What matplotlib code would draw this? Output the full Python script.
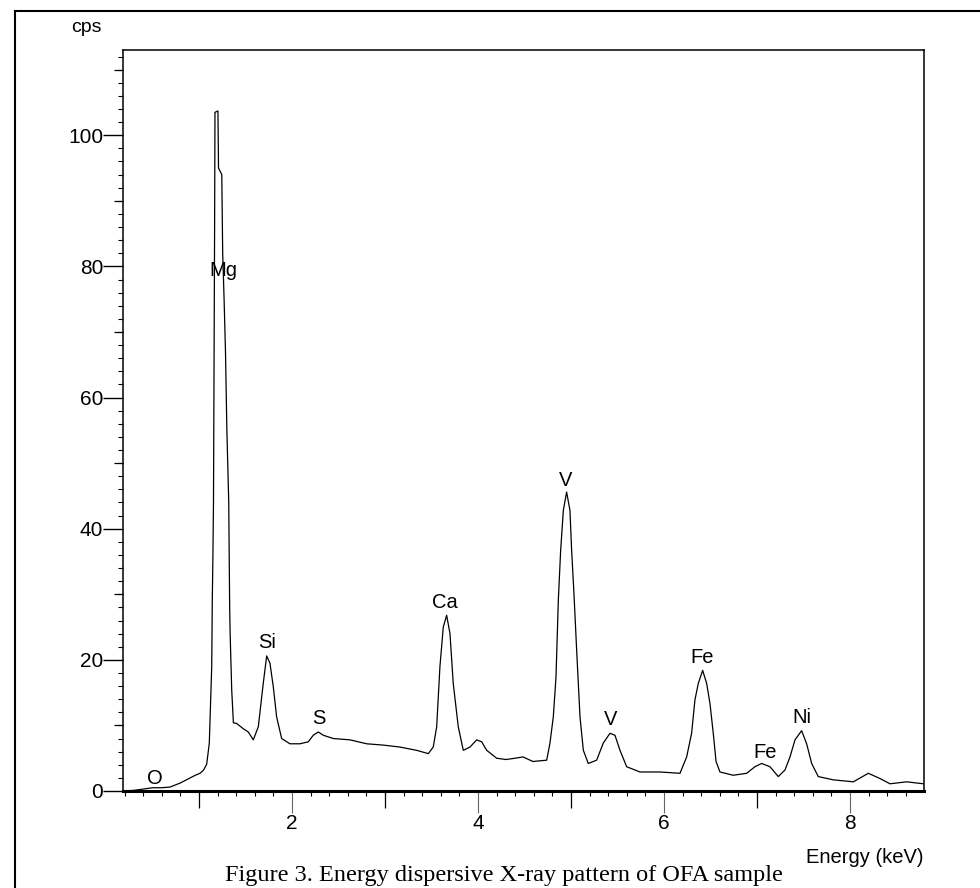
import matplotlib
matplotlib.use("Agg")
import matplotlib.pyplot as plt
from matplotlib.ticker import MultipleLocator, NullFormatter
from matplotlib.lines import Line2D

# ---- data ----
energy_kev = [
    0.18, 0.30, 0.40, 0.505, 0.60, 0.688, 0.796, 0.85, 0.903, 0.96,
    1.011, 1.05, 1.083, 1.111, 1.126, 1.137, 1.143, 1.150, 1.156, 1.161,
    1.168, 1.172, 1.204, 1.210, 1.245, 1.255, 1.270, 1.285, 1.300, 1.320,
    1.330, 1.335, 1.352, 1.370, 1.405, 1.440, 1.476, 1.530, 1.584, 1.638,
    1.691, 1.728, 1.763, 1.799, 1.835, 1.889, 1.978, 2.086, 2.175, 2.229,
    2.283, 2.337, 2.444, 2.624, 2.803, 2.982, 3.161, 3.341, 3.466, 3.519,
    3.556, 3.591, 3.627, 3.663, 3.699, 3.734, 3.788, 3.842, 3.914, 3.986,
    4.040, 4.094, 4.201, 4.300, 4.400, 4.484, 4.590, 4.739, 4.774, 4.810,
    4.839, 4.864, 4.889, 4.918, 4.953, 4.989, 5.007, 5.032, 5.061, 5.097,
    5.133, 5.186, 5.276, 5.347, 5.419, 5.473, 5.527, 5.599, 5.742, 5.957,
    6.172, 6.244, 6.297, 6.333, 6.369, 6.416, 6.459, 6.495, 6.530, 6.560,
    6.602, 6.745, 6.889, 6.978, 7.050, 7.140, 7.229, 7.301, 7.355, 7.409,
    7.480, 7.534, 7.588, 7.659, 7.821, 8.036, 8.197, 8.323, 8.430, 8.610,
    8.788,
]
counts_cps = [
    0.0, 0.1, 0.3, 0.5, 0.5, 0.6, 1.2, 1.6, 2.0, 2.4,
    2.7, 3.2, 4.1, 7.3, 13.9, 19.0, 29.0, 36.0, 44.0, 60.0,
    86.0, 103.5, 103.7, 95.0, 94.0, 82.0, 75.0, 67.0, 55.0, 44.0,
    28.0, 24.0, 15.4, 10.4, 10.3, 9.9, 9.5, 9.0, 7.8, 9.8,
    16.4, 20.6, 19.5, 15.9, 11.3, 8.0, 7.2, 7.2, 7.5, 8.5,
    9.0, 8.5, 8.0, 7.8, 7.2, 7.0, 6.7, 6.2, 5.7, 6.7,
    9.8, 19.0, 25.0, 26.8, 24.0, 16.4, 9.8, 6.2, 6.7, 7.8,
    7.5, 6.2, 5.0, 4.8, 5.0, 5.2, 4.5, 4.7, 7.3, 11.3,
    17.4, 29.1, 36.7, 42.8, 45.6, 42.8, 36.7, 30.1, 21.5, 11.3,
    6.2, 4.2, 4.7, 7.3, 8.8, 8.5, 6.2, 3.7, 2.9, 2.9,
    2.7, 5.2, 8.8, 13.9, 16.4, 18.4, 16.4, 13.3, 8.8, 4.5,
    2.9, 2.4, 2.7, 3.7, 4.2, 3.7, 2.2, 3.2, 5.2, 7.8,
    9.2, 7.2, 4.2, 2.2, 1.7, 1.4, 2.7, 1.9, 1.1, 1.4,
    1.1,
]

peak_labels = ["O", "Mg", "Si", "S", "Ca", "V", "V", "Fe", "Fe", "Ni"]
label_energy = [0.527, 1.264, 1.737, 2.290, 3.645, 4.946, 5.430, 6.409, 7.086, 7.484]
label_cps = [1.98, 79.3, 22.7, 11.0, 28.7, 47.3, 10.9, 20.4, 5.9, 11.2]

x_major_ticks = [2, 4, 6, 8]
x_mid_ticks = [1, 3, 5, 7]
y_major_ticks = [0, 20, 40, 60, 80, 100]
y_mid_ticks = [10, 30, 50, 70, 90, 110]

SANS = ["Liberation Sans", "DejaVu Sans"]
SERIF = ["Liberation Serif", "DejaVu Serif"]
plt.rcParams["font.family"] = SANS

PX = 72 / 100  # points per pixel at 100 dpi

fig = plt.figure(figsize=(9.8, 8.88), dpi=100)
ax = fig.add_axes([123 / 980, 1 - 791 / 888, (924 - 123) / 980, (791 - 50) / 888])

ax.plot(energy_kev, counts_cps, color="black", lw=0.9)

ax.set_xlim(0.183, 8.796)
ax.set_ylim(0, 113)

# ticks
ax.xaxis.set_minor_locator(MultipleLocator(0.2))
ax.yaxis.set_minor_locator(MultipleLocator(2))
ax.set_xticks(x_major_ticks)
ax.set_yticks(y_major_ticks)
ax.tick_params(axis="x", which="major", direction="out", length=22 * PX, width=0.8,
               color="#666666", labelsize=15, pad=1)
ax.tick_params(axis="x", which="minor", direction="out", length=5 * PX, width=0.8)
ax.tick_params(axis="y", which="major", direction="out", length=20 * PX, width=1.0,
               labelsize=15, pad=0)
ax.tick_params(axis="y", which="minor", direction="out", length=5 * PX, width=0.8)

secx = ax.secondary_xaxis("bottom")
secx.set_xticks(x_mid_ticks)
secx.xaxis.set_major_formatter(NullFormatter())
secx.tick_params(direction="out", length=17 * PX, width=0.9)
secx.spines["bottom"].set_visible(False)

secy = ax.secondary_yaxis("left")
secy.set_yticks(y_mid_ticks)
secy.yaxis.set_major_formatter(NullFormatter())
secy.tick_params(direction="out", length=9 * PX, width=0.9)
secy.spines["left"].set_visible(False)

for side in ["top", "right", "left"]:
    ax.spines[side].set_linewidth(1.1)
ax.spines["bottom"].set_linewidth(2.2)

for name, ex, cy in zip(peak_labels, label_energy, label_cps):
    ax.text(ex, cy, name, ha="center", va="center", fontsize=14.5)

fig.text(86.5 / 980, 1 - 27 / 888, "cps", ha="center", va="center", fontsize=14)
fig.text(865 / 980, 1 - 857 / 888, "Energy (keV)", ha="center", va="center", fontsize=14.5)
fig.text(503.5 / 980, 1 - 881 / 888, "Figure 3. Energy dispersive X-ray pattern of OFA sample",
         ha="center", va="baseline", fontsize=17.5, family=SERIF)

# outer frame lines of the scanned figure
fig.add_artist(Line2D([15 / 980, 15 / 980], [0, 1 - 11 / 888], color="black", lw=1.5))
fig.add_artist(Line2D([15 / 980, 1], [1 - 11 / 888, 1 - 11 / 888], color="black", lw=1.5))

fig.savefig("out.png", dpi=100)
